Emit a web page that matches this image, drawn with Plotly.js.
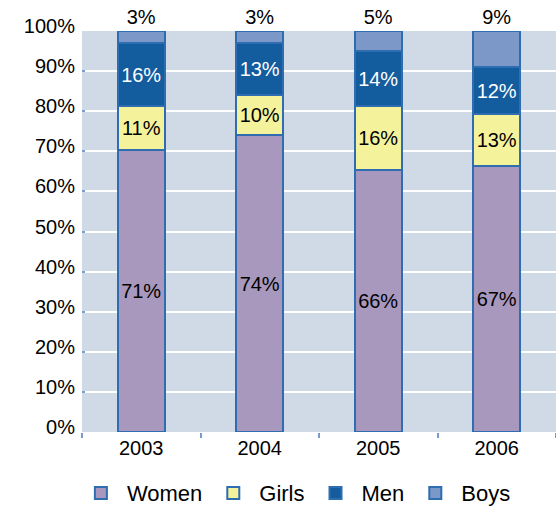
<!DOCTYPE html>
<html>
<head>
<meta charset="utf-8">
<script src="https://cdn.plot.ly/plotly-3.0.1.min.js"></script>
<style>
  body { margin: 0; background: #fff; }
  #chart { width: 556px; height: 510px; }
</style>
</head>
<body>
<div id="chart"></div>
<script>
// Valores
const years = ['2003', '2004', '2005', '2006'];
const women = [71, 74, 66, 67];
const girls = [11, 10, 16, 13];
const men = [16, 13, 14, 12];
const boys = [3, 3, 5, 9];

const fuente = 'Liberation Sans, Arial, sans-serif';
const borde = { color: '#2D6DB0', width: 2 };

function serie(nombre, valores, color, colorTexto, posicion) {
    return {
        type: 'bar',
        name: nombre,
        x: years,
        y: valores,
        text: valores.map(v => v + '%'),
        textposition: posicion,
        insidetextanchor: 'middle',
        textangle: 0,
        constraintext: 'none',
        cliponaxis: false,
        textfont: { family: fuente, size: 20, color: colorTexto },
        marker: { color: color, line: borde },
        width: 0.4,
        hoverinfo: 'none'
    };
}

const trazas = [
    serie('Women', women, '#A898BE', '#000', 'inside'),
    serie('Girls', girls, '#F5F29C', '#000', 'inside'),
    serie('Men', men, '#135C9E', '#fff', 'inside'),
    serie('Boys', boys, '#7B98C8', '#000', 'outside')
];

const layout = {
    width: 556,
    height: 510,
    margin: { l: 82, r: 0, t: 31, b: 78, autoexpand: false },
    paper_bgcolor: '#fff',
    plot_bgcolor: '#D0DAE6',
    barmode: 'stack',
    barnorm: 'percent',
    font: { family: fuente, size: 20, color: '#000' },
    xaxis: {
        type: 'category',
        range: [-0.5, 3.5],
        showgrid: false,
        ticks: 'outside',
        tickson: 'boundaries',
        ticklen: 5,
        tickwidth: 2,
        tickcolor: '#7A9BCC',
        showline: false,
        ticklabelstandoff: 2,
        tickfont: { size: 20 },
        fixedrange: true
    },
    yaxis: {
        range: [0, 100],
        dtick: 10,
        ticksuffix: '%',
        gridcolor: '#fff',
        gridwidth: 2,
        zeroline: false,
        ticks: 'inside',
        ticklen: 3,
        tickwidth: 2,
        tickcolor: '#7A9BCC',
        ticklabelshift: -5,
        ticklabelstandoff: 6,
        tickfont: { size: 20 },
        fixedrange: true
    },
    showlegend: true,
    legend: {
        orientation: 'h',
        x: -0.015,
        xanchor: 'left',
        y: -0.1,
        yanchor: 'top',
        traceorder: 'normal',
        itemwidth: 42,
        font: { size: 22 },
        itemclick: false
    }
};

Plotly.newPlot('chart', trazas, layout, { staticPlot: true });
</script>
</body>
</html>
